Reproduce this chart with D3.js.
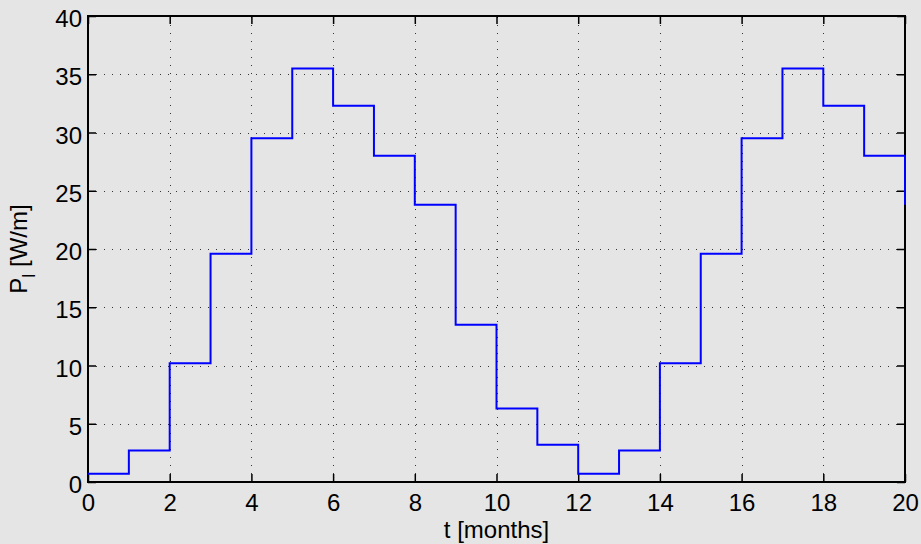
<!DOCTYPE html>
<html>
<head>
<meta charset="utf-8">
<script src="https://cdn.jsdelivr.net/npm/d3@7"></script>
<style>
  html, body { margin: 0; padding: 0; background: #e5e5e5; }
  svg { display: block; font-family: "Liberation Sans", Arial, sans-serif; }
</style>
</head>
<body>
<svg id="chart"></svg>
<script>
const WIDTH = 921;
const HEIGHT = 544;
const MARGIN = { top: 16, right: 16, bottom: 62, left: 88 };

// monthly values, one per month start
const months = d3.range(0, 21);
const power = [0.7, 2.7, 10.2, 19.6, 29.5, 35.5, 32.3, 28.0, 23.8, 13.5, 6.3, 3.2,
	0.7, 2.7, 10.2, 19.6, 29.5, 35.5, 32.3, 28.0, 23.8];
const xTicks = [0, 2, 4, 6, 8, 10, 12, 14, 16, 18, 20];
const yTicks = [0, 5, 10, 15, 20, 25, 30, 35, 40];

const data = months.map((m, i) => ({ t: m, p: power[i] }));

const $svg = d3.select('#chart').attr('width', WIDTH).attr('height', HEIGHT);
const w = WIDTH - MARGIN.left - MARGIN.right;
const h = HEIGHT - MARGIN.top - MARGIN.bottom;
const $g = $svg.append('g').attr('transform', `translate(${MARGIN.left},${MARGIN.top})`);

const x = d3.scaleLinear().domain([0, 20]).range([0, w]);
const y = d3.scaleLinear().domain([0, 40]).range([h, 0]);

const FONT = 24;

// dotted grid
const $grid = $g.append('g').attr('stroke', '#333').attr('stroke-width', 1)
	.attr('stroke-dasharray', '1,7');
$grid.selectAll('line.gx').data(xTicks.slice(1, -1)).enter().append('line')
	.attr('x1', d => Math.round(x(d)) + 0.5).attr('x2', d => Math.round(x(d)) + 0.5)
	.attr('y1', h).attr('y2', 0);
$grid.selectAll('line.gy').data(yTicks.slice(1, -1)).enter().append('line')
	.attr('y1', d => Math.round(y(d)) + 0.5).attr('y2', d => Math.round(y(d)) + 0.5)
	.attr('x1', 0).attr('x2', w);

// axes, ticks inward on all four sides
const TICK = 8;
const fmt = d3.format('d');
function styleAxis(sel) {
	sel.select('.domain').remove();
	sel.selectAll('.tick line').attr('stroke', '#000').attr('stroke-width', 1.5);
	sel.selectAll('.tick text').attr('fill', '#000').attr('font-size', FONT)
		.attr('font-family', '"Liberation Sans", Arial, sans-serif');
}
$g.append('g').attr('transform', `translate(0,${h})`)
	.call(d3.axisBottom(x).tickValues(xTicks).tickFormat(fmt).tickSizeInner(-TICK).tickPadding(12))
	.call(styleAxis);
$g.append('g')
	.call(d3.axisTop(x).tickValues(xTicks).tickSizeInner(-TICK).tickFormat(''))
	.call(styleAxis);
$g.append('g')
	.call(d3.axisLeft(y).tickValues(yTicks).tickFormat(fmt).tickSizeInner(-TICK).tickPadding(6))
	.call(styleAxis)
	.selectAll('.tick text').attr('dy', '10.5px');
$g.append('g').attr('transform', `translate(${w},0)`)
	.call(d3.axisRight(y).tickValues(yTicks).tickSizeInner(-TICK).tickFormat(''))
	.call(styleAxis);

// box
$g.append('rect').attr('width', w).attr('height', h)
	.attr('fill', 'none').attr('stroke', '#000').attr('stroke-width', 2);

// the staircase, over the box
const line = d3.line().x(d => x(d.t)).y(d => y(d.p)).curve(d3.curveStepAfter);
$g.append('path').datum(data)
	.attr('d', line)
	.attr('fill', 'none')
	.attr('stroke', '#0000ff')
	.attr('stroke-width', 2);

// labels
$svg.append('text')
	.attr('x', MARGIN.left + w / 2).attr('y', 538)
	.attr('text-anchor', 'middle').attr('font-size', FONT)
	.text('t [months]');

const $yl = $svg.append('text')
	.attr('transform', `translate(27,${MARGIN.top + h / 2}) rotate(-90)`)
	.attr('text-anchor', 'middle').attr('font-size', FONT);
$yl.append('tspan').text('P');
$yl.append('tspan').attr('dy', 8).attr('font-size', 18).text('l');
$yl.append('tspan').attr('dy', -8).text(' [W/m]');
</script>
</body>
</html>
